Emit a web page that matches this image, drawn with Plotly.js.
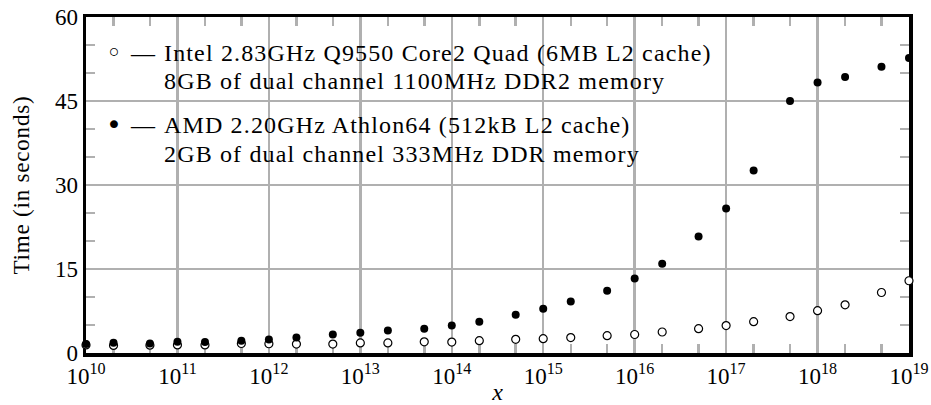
<!DOCTYPE html>
<html>
<head>
<meta charset="utf-8">
<script src="https://cdn.plot.ly/plotly-3.0.1.min.js"></script>
<style>
  html, body { margin: 0; padding: 0; background: #fff; }
  #chart { width: 931px; height: 405px; }
  /* a little extra tracking so the serif text runs as wide as a TeX face
     (unscoped so that Plotly's text measuring node sees the same spacing) */
  .annotation-text { letter-spacing: 1.15px; }
  .ytitle { letter-spacing: 0.8px; }
</style>
</head>
<body>
<div id="chart"></div>
<script>
// Problem size x (log scale) and the measured run times in seconds
const xValues = [
  1e10, 2e10, 5e10, 1e11, 2e11, 5e11, 1e12, 2e12, 5e12,
  1e13, 2e13, 5e13, 1e14, 2e14, 5e14, 1e15, 2e15, 5e15,
  1e16, 2e16, 5e16, 1e17, 2e17, 5e17, 1e18, 2e18, 5e18, 1e19
];
const intelTimes = [
  1.45, 1.35, 1.4, 1.45, 1.45, 1.7, 1.65, 1.6, 1.6,
  1.8, 1.8, 2.0, 1.95, 2.2, 2.45, 2.55, 2.75, 3.1,
  3.3, 3.75, 4.35, 4.9, 5.6, 6.5, 7.55, 8.6, 10.8, 12.9
];
const amdTimes = [
  1.6, 1.85, 1.7, 2.0, 1.95, 2.2, 2.4, 2.75, 3.3,
  3.6, 4.0, 4.35, 4.9, 5.6, 6.85, 7.9, 9.2, 11.1,
  13.3, 15.95, 20.8, 25.8, 32.6, 45.0, 48.3, 49.3, 51.1, 52.7
];

// Key text: one symbol and two lines per machine
const intelSymbol = '◦';
const amdSymbol = '•';
const intelLines = ['Intel 2.83GHz Q9550 Core2 Quad (6MB L2 cache)', '8GB of dual channel 1100MHz DDR2 memory'];
const amdLines = ['AMD 2.20GHz Athlon64 (512kB L2 cache)', '2GB of dual channel 333MHz DDR memory'];

// Axis ticks
const xTickVals = [1e10, 1e11, 1e12, 1e13, 1e14, 1e15, 1e16, 1e17, 1e18, 1e19];
const xTickText = ['10<sup>10</sup>', '10<sup>11</sup>', '10<sup>12</sup>', '10<sup>13</sup>', '10<sup>14</sup>',
                   '10<sup>15</sup>', '10<sup>16</sup>', '10<sup>17</sup>', '10<sup>18</sup>', '10<sup>19</sup>'];
const xMinorVals = [
  2e10, 5e10, 2e11, 5e11, 2e12, 5e12, 2e13, 5e13, 2e14, 5e14,
  2e15, 5e15, 2e16, 5e16, 2e17, 5e17, 2e18, 5e18
];
const yTickVals = [0, 15, 30, 45, 60];
const yMinorVals = [5, 10, 20, 25, 35, 40, 50, 55];

const FONT = 'Liberation Serif, Times New Roman, serif';
const GRID = '#b0b0b0';
const TEXT_SIZE = 24;

const traces = [
  {
    x: xValues, y: intelTimes, name: intelLines.join(' '),
    type: 'scatter', mode: 'markers', cliponaxis: false,
    marker: { symbol: 'circle', size: 8, color: '#ffffff', line: { color: '#000000', width: 1.2 } }
  },
  {
    x: xValues, y: amdTimes, name: amdLines.join(' '),
    type: 'scatter', mode: 'markers', cliponaxis: false,
    marker: { symbol: 'circle', size: 8, color: '#000000', line: { color: '#000000', width: 0 } }
  }
];

// key rows: [symbol, first line, second line, y of first line, y of second line] in paper units
const keyRows = [
  [intelSymbol, intelLines[0], intelLines[1], 0.893, 0.809],
  [amdSymbol, amdLines[0], amdLines[1], 0.679, 0.592]
];
const annotations = [];
keyRows.forEach(function (row) {
  const base = { xref: 'paper', yref: 'paper', showarrow: false, yanchor: 'middle',
                 font: { family: FONT, size: TEXT_SIZE, color: '#000000' } };
  annotations.push(Object.assign({}, base, { text: row[0], x: 0.0352, xanchor: 'center', y: row[3],
    font: { family: 'DejaVu Sans', size: 27, color: '#000000' } }));
  annotations.push(Object.assign({}, base, { text: '—', x: 0.0505, xanchor: 'left', y: row[3] }));
  annotations.push(Object.assign({}, base, { text: row[1], x: 0.0920, xanchor: 'left', y: row[3] }));
  annotations.push(Object.assign({}, base, { text: row[2], x: 0.0920, xanchor: 'left', y: row[4] }));
});

const layout = {
  width: 931, height: 405,
  margin: { l: 86, r: 22, t: 17, b: 52 },
  paper_bgcolor: '#ffffff', plot_bgcolor: '#ffffff',
  font: { family: FONT, size: TEXT_SIZE, color: '#000000' },
  showlegend: false,
  xaxis: {
    type: 'log', range: [10, 19],
    tickmode: 'array', tickvals: xTickVals, ticktext: xTickText,
    ticks: '', showgrid: true, gridcolor: GRID, gridwidth: 2.5,
    minor: { tickmode: 'array', tickvals: xMinorVals, ticks: 'inside', ticklen: 9, tickwidth: 2.5, tickcolor: GRID, showgrid: false },
    showline: true, linecolor: '#000000', linewidth: 3.5, mirror: 'ticks',
    zeroline: false, layer: 'below traces',
    tickfont: { family: FONT, size: 23, color: '#000000' },
    title: { text: '<i>x</i>', font: { family: FONT, size: 24, color: '#000000' }, standoff: 2 }
  },
  yaxis: {
    range: [0, 60],
    tickmode: 'array', tickvals: yTickVals,
    ticks: '', showgrid: true, gridcolor: GRID, gridwidth: 2.5,
    minor: { tickmode: 'array', tickvals: yMinorVals, ticks: 'inside', ticklen: 9, tickwidth: 2.5, tickcolor: GRID, showgrid: false },
    showline: true, linecolor: '#000000', linewidth: 3.5, mirror: 'ticks',
    zeroline: false, layer: 'below traces',
    tickfont: { family: FONT, size: 23, color: '#000000' },
    title: { text: 'Time (in seconds)', font: { family: FONT, size: 23, color: '#000000' }, standoff: 20 }
  },
  annotations: annotations,
  // white panels behind the two key entries
  shapes: [
    { type: 'rect', xref: 'paper', yref: 'paper', x0: 0.017, x1: 0.768, y0: 0.762, y1: 0.9435,
      fillcolor: '#ffffff', line: { width: 0 }, layer: 'between' },
    { type: 'rect', xref: 'paper', yref: 'paper', x0: 0.017, x1: 0.684, y0: 0.536, y1: 0.729,
      fillcolor: '#ffffff', line: { width: 0 }, layer: 'between' }
  ]
};

Plotly.newPlot('chart', traces, layout, { displayModeBar: false, staticPlot: true });
</script>
</body>
</html>
